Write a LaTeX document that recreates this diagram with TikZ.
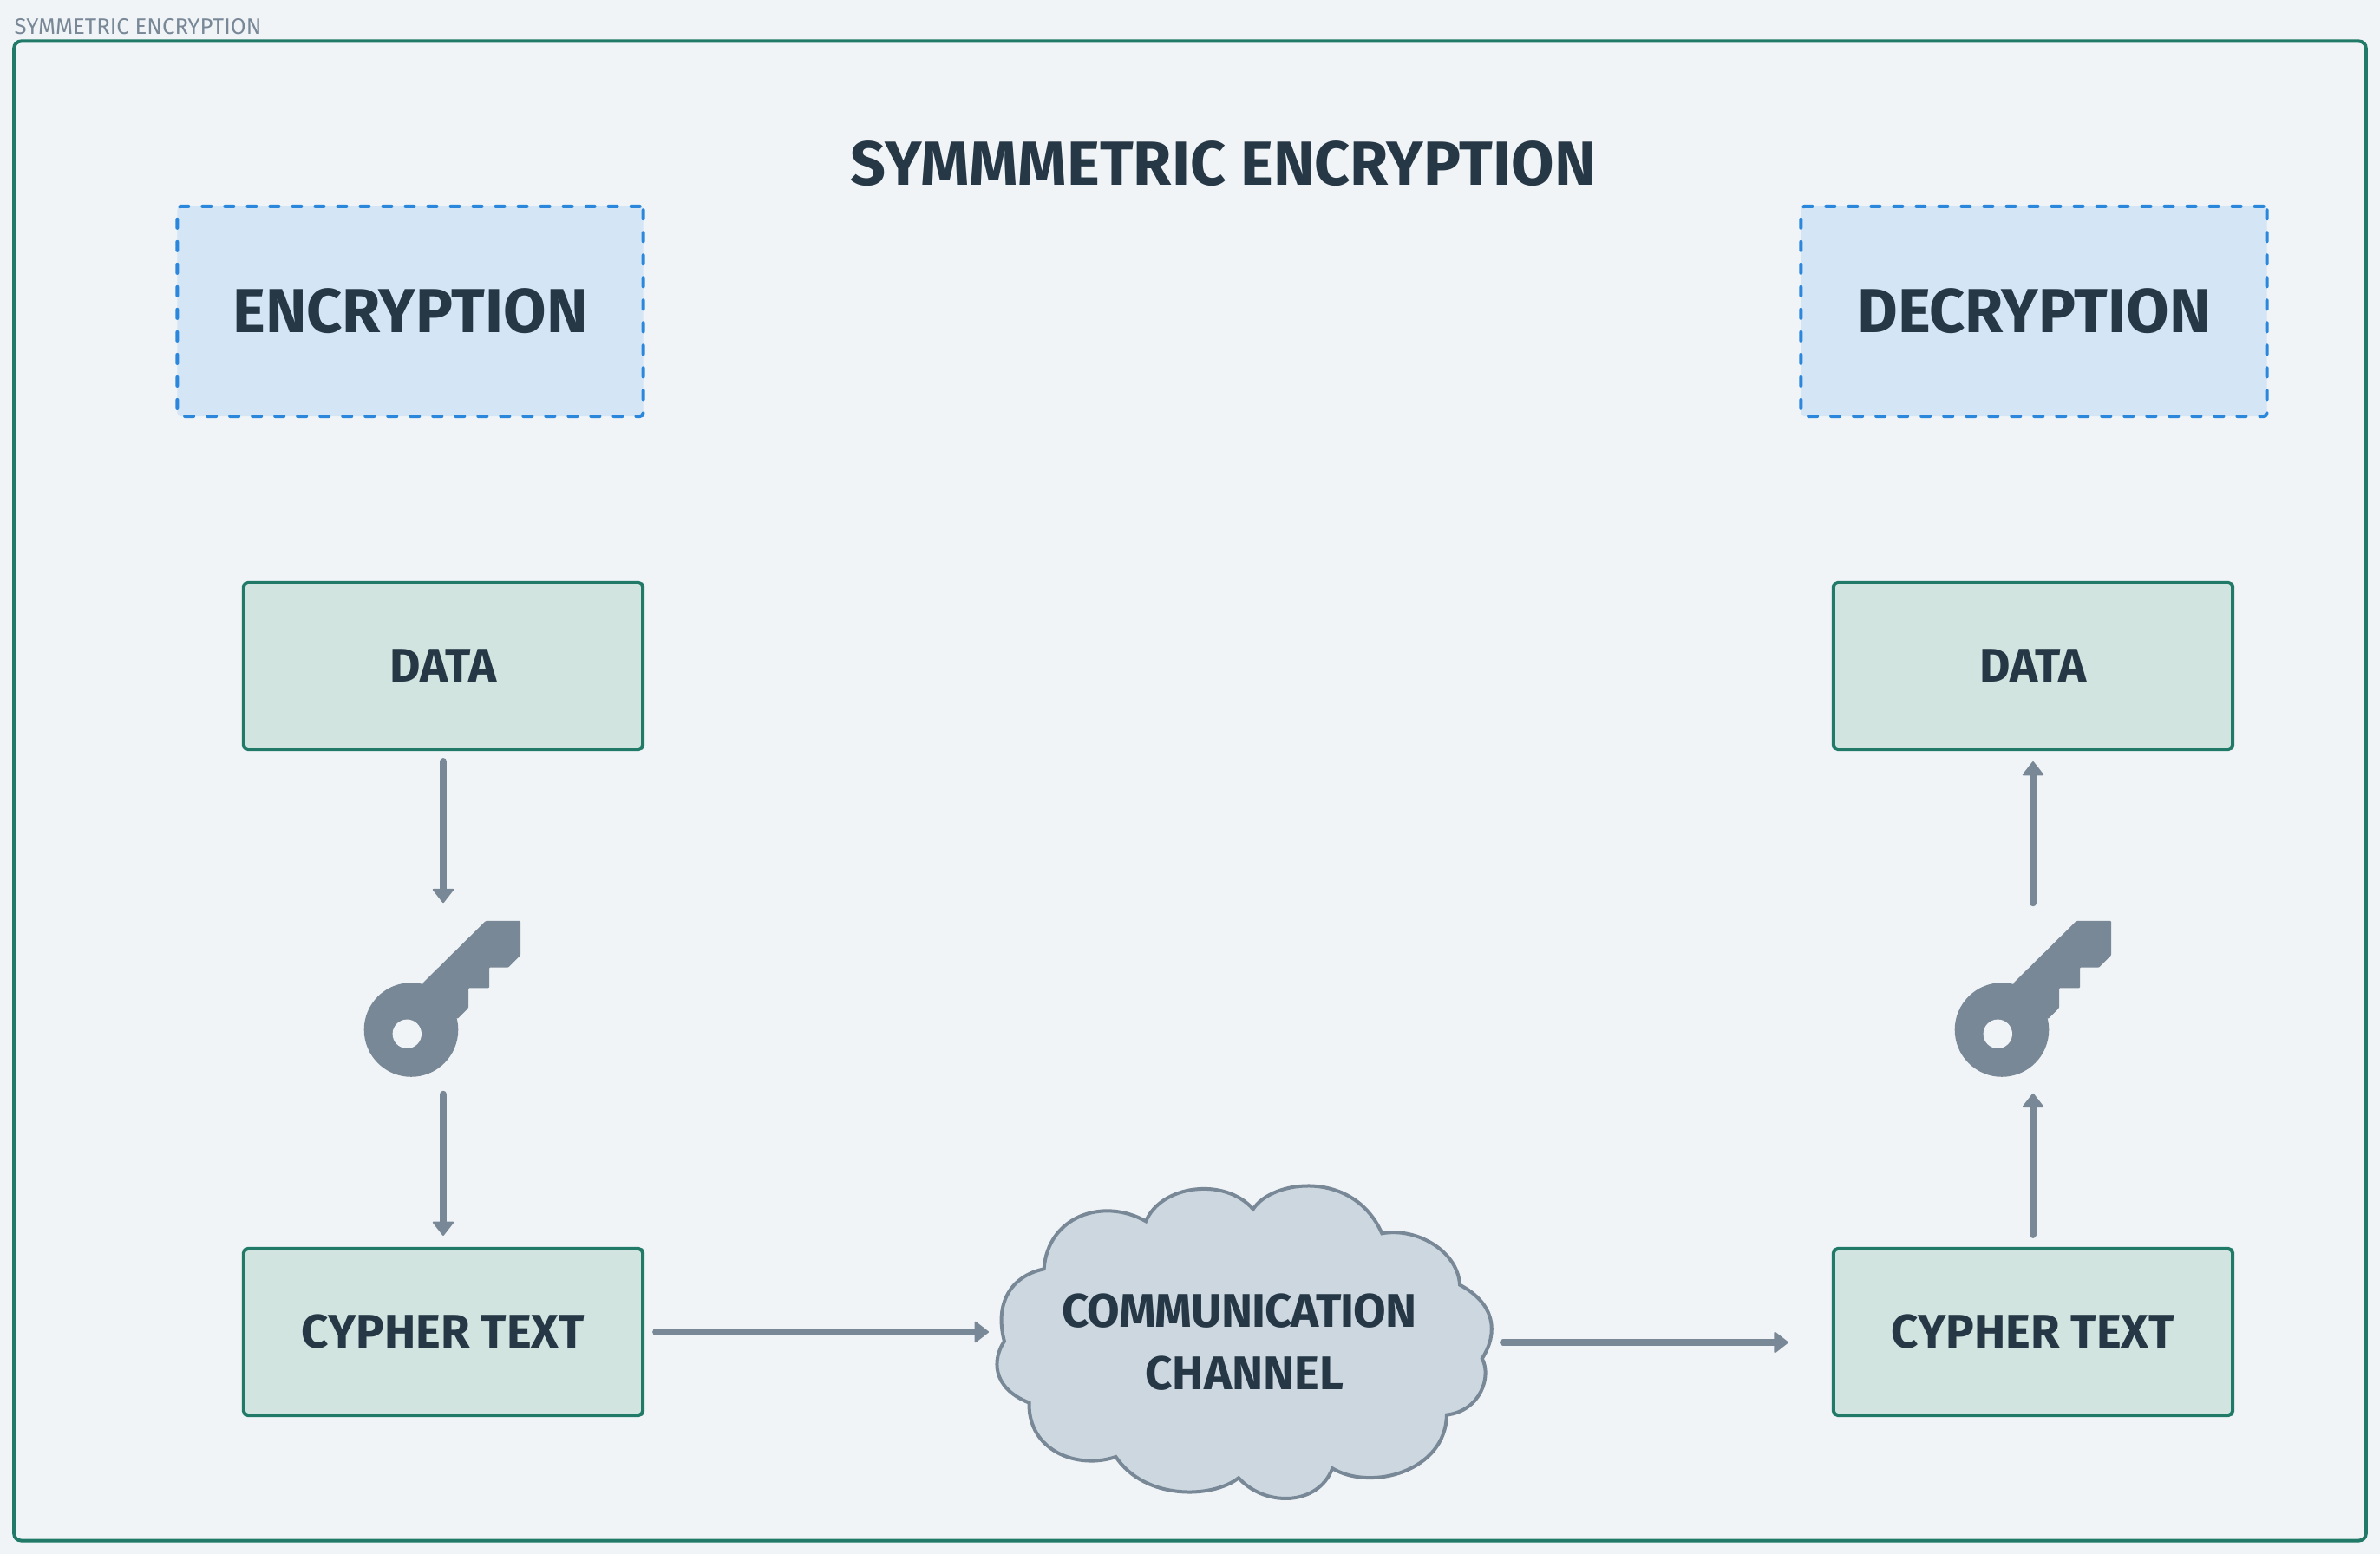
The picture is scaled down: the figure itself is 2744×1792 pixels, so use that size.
\documentclass[tikz,border=0pt]{standalone}
\usepackage{fontspec}
\setmainfont{Fira Sans}
\usepackage{xcolor}
\definecolor{pagebg}{HTML}{F0F4F7}
\definecolor{frameline}{HTML}{217A68}
\definecolor{boxfill}{HTML}{D1E4E0}
\definecolor{dashline}{HTML}{2B87DB}
\definecolor{dashfill}{HTML}{D4E5F5}
\definecolor{inkdark}{HTML}{263746}
\definecolor{inkgrey}{HTML}{798897}
\definecolor{cloudfill}{HTML}{CCD7E0}
\usetikzlibrary{arrows.meta, positioning, calc}

\begin{document}
\begin{tikzpicture}[
    x=0.01cm, y=-0.01cm,
    >={Triangle[length=0.17cm,width=0.26cm,line width=0.02cm,round]},
    text=inkdark,
    flow/.style={->, draw=inkgrey, line width=0.08cm, line cap=round},
    outerbox/.style={draw=frameline, rounded corners=0.08cm, line width=0.04cm, minimum width=27.1cm, minimum height=17.28cm, inner sep=0pt},
    plainbox/.style={draw=frameline, fill=boxfill, rounded corners=0.05cm, line width=0.04cm, minimum width=4.6cm, minimum height=1.92cm, align=center, inner sep=0pt, font=\fontsize{15.5}{18}\selectfont\bfseries},
    sidebox/.style={draw=dashline, fill=dashfill, dash pattern=on 0.1cm off 0.16cm, line cap=round, rounded corners=0.04cm, line width=0.04cm, minimum width=5.37cm, minimum height=2.42cm, align=center, inner sep=0pt, font=\fontsize{20.4}{24}\selectfont\bfseries},
    keyslot/.style={minimum width=1.8cm, minimum height=1.8cm, inner sep=0pt},
    keyicon/.pic={
        \fill[inkgrey, rounded corners=0.01cm] (-23.3,-17.7) -- (50,-90) -- (90,-90) -- (90,-50.3) -- (76,-36.3) -- (54,-36.3) -- (54,-12.7) -- (30,-12.7) -- (30,10.3) -- (17.3,23) -- cycle;
        \fill[inkgrey] (-36,35.5) circle[radius=54.3];
        \fill[pagebg] (-40.7,40.3) circle[radius=16.7];
    },
]
\fill[pagebg] (0,0) rectangle (2744,1792);
\useasboundingbox (0,0) rectangle (2744,1792);

\node[outerbox] (outer) at (1372,912) {};
\node[anchor=base west, inner sep=0pt, text=inkgrey, font=\fontsize{7.33}{9}\selectfont] (caption) at (16,40) {SYMMETRIC ENCRYPTION};
\node[font=\fontsize{20.4}{24}\selectfont\bfseries] (title) at (1410,189) {SYMMMETRIC ENCRYPTION};

\node[sidebox] (enc) at (473,359) {ENCRYPTION};
\node[sidebox] (dec) at (2345,359) {DECRYPTION};

\node[plainbox] (dataa) at (511,768) {DATA};
\node[plainbox] (cypha) at (511,1536) {CYPHER TEXT};
\node[plainbox] (datab) at (2344,768) {DATA};
\node[plainbox] (cyphb) at (2344,1536) {CYPHER TEXT};

\node[keyslot] (keya) at (510,1152) {};
\node[keyslot] (keyb) at (2344,1152) {};
\pic at (keya) {keyicon};
\pic at (keyb) {keyicon};

\begin{scope}[shift={(1120,1340)}, xscale=0.408, yscale=0.3333]
\draw[fill=cloudfill, draw=inkgrey, line width=0.04cm]
    (493,205) .. controls (535,80) and (715,50) .. (796,163)
    .. controls (850,60) and (1080,25) .. (1160,247)
    .. controls (1260,225) and (1375,310) .. (1380,425)
    .. controls (1480,490) and (1490,590) .. (1443,680)
    .. controls (1470,740) and (1440,860) .. (1343,875)
    .. controls (1340,1070) and (1130,1140) .. (1020,1060)
    .. controls (980,1190) and (830,1195) .. (755,1093)
    .. controls (680,1165) and (490,1170) .. (408,1020)
    .. controls (300,1065) and (160,1000) .. (163,833)
    .. controls (55,780) and (60,680) .. (93,620)
    .. controls (65,490) and (110,395) .. (205,370)
    .. controls (215,190) and (370,120) .. (493,205) -- cycle;
\end{scope}
\node[align=center, inner sep=0pt, font=\fontsize{15.5}{20.5}\selectfont\bfseries] (chan) at (1435,1548) {\addfontfeature{LetterSpace=-1.8}COMMUNICATION\kern 0.12cm\\CHANNEL};
\coordinate (chanin) at (1148,1536);
\coordinate (chanout) at (1720,1548);

\draw[flow, shorten <=0.13cm, shorten >=0.08cm] (cypha.east) -- (chanin);
\draw[flow, shorten <=0.13cm, shorten >=0.5cm] (chanout) -- (chanout -| cyphb.west);
\draw[flow, shorten <=0.12cm, shorten >=0.2cm] (dataa.south) -- (dataa.south |- keya.north);
\draw[flow, shorten <=0.19cm, shorten >=0.13cm] (dataa.south |- keya.south) -- (cypha.north);
\draw[flow, shorten <=0.14cm, shorten >=0.18cm] (cyphb.north) -- (keyb.south);
\draw[flow, shorten <=0.2cm, shorten >=0.12cm] (keyb.north) -- (datab.south);
\end{tikzpicture}
\end{document}
